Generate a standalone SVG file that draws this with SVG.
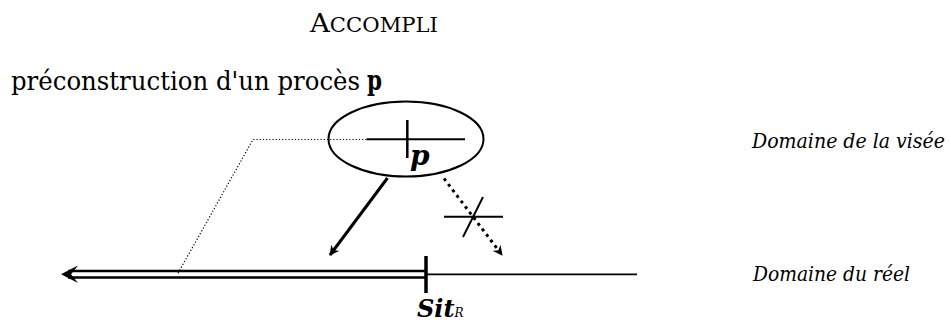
<svg xmlns="http://www.w3.org/2000/svg" width="951" height="322" viewBox="0 0 951 322">
  <defs>
    <style>
      .ln { stroke: #000; fill: none; }
      .dot { stroke: #000; fill: none; stroke-width: 1.2; stroke-dasharray: 1.2 2; }
    </style>
    <marker id="ah" viewBox="0 0 10 10" refX="9" refY="5" markerWidth="10" markerHeight="10" markerUnits="userSpaceOnUse" orient="auto">
      <path d="M0,0 L10,5 L0,10 L3,5 Z" fill="#000"/>
    </marker>
  </defs>
  <rect width="951" height="322" fill="#fff"/>

  <g id="title">
    <text font-family="'DejaVu Serif', serif" x="310" y="32" font-size="26" textLength="128" lengthAdjust="spacingAndGlyphs">A<tspan font-size="20">CCOMPLI</tspan></text>
  </g>

  <g id="heading">
    <text font-family="'DejaVu Serif Condensed', 'DejaVu Serif', serif" font-stretch="condensed" x="11" y="90" font-size="26" textLength="349" lengthAdjust="spacingAndGlyphs">préconstruction d'un procès</text>
    <text font-family="'DejaVu Serif Condensed', 'DejaVu Serif', serif" font-stretch="condensed" font-weight="bold" x="367" y="90" font-size="28" textLength="15" lengthAdjust="spacingAndGlyphs">p</text>
  </g>

  <g id="node-p">
    <ellipse cx="406" cy="139" rx="77.5" ry="37.5" class="ln" stroke-width="2"/>
    <line x1="366.5" y1="139.3" x2="465" y2="139.3" class="ln" stroke-width="2"/>
    <line x1="407.3" y1="120" x2="407.3" y2="158" class="ln" stroke-width="2.5"/>
    <text font-family="'DejaVu Serif', serif" font-style="italic" x="410" y="165" font-size="28" font-weight="bold">p</text>
  </g>

  <g id="label-visee">
    <text font-family="'DejaVu Serif Condensed', 'DejaVu Serif', serif" font-stretch="condensed" font-style="italic" x="752" y="148" font-size="21" textLength="193" lengthAdjust="spacingAndGlyphs">Domaine de la visée</text>
  </g>

  <g id="label-reel">
    <text font-family="'DejaVu Serif Condensed', 'DejaVu Serif', serif" font-stretch="condensed" font-style="italic" x="753" y="281" font-size="21" textLength="157" lengthAdjust="spacingAndGlyphs">Domaine du réel</text>
  </g>

  <g id="sit">
    <line x1="426" y1="256" x2="426" y2="293" class="ln" stroke-width="3.5"/>
    <text font-family="'DejaVu Serif', serif" font-style="italic" x="417" y="317" font-size="24" font-weight="bold">Sit<tspan font-size="12" font-weight="normal">R</tspan></text>
  </g>

  <g id="connectors">
    <line x1="68" y1="271" x2="426" y2="271" class="ln" stroke-width="2.5"/>
    <line x1="68" y1="277.5" x2="426" y2="277.5" class="ln" stroke-width="2.5"/>
    <path d="M61,274.2 L78,265.5 L71,274.2 L78,283 Z" fill="#000"/>
    <line x1="426" y1="274.3" x2="637" y2="274.3" class="ln" stroke-width="1.8"/>
    <polyline points="366.5,139.5 253,139.5 177,275" class="dot"/>
    <line x1="387.5" y1="178" x2="330" y2="255" class="ln" stroke-width="3" marker-end="url(#ah)"/>
    <line x1="444" y1="178.5" x2="502" y2="255" class="ln" stroke-width="3" stroke-dasharray="3 4" marker-end="url(#ah)"/>
    <line x1="444" y1="216.7" x2="503" y2="216.7" class="ln" stroke-width="2"/>
    <line x1="483" y1="197" x2="463" y2="237" class="ln" stroke-width="2"/>
  </g>
</svg>
